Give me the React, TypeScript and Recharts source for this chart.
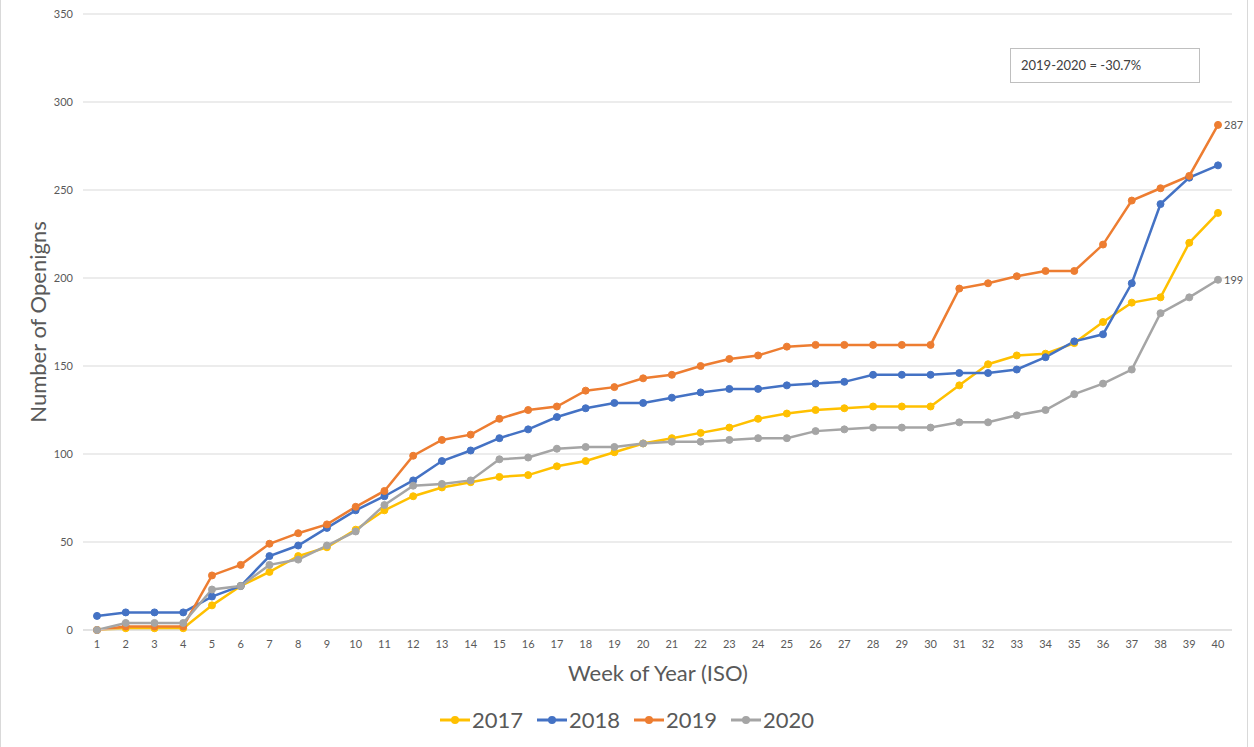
import React from 'react';
import { LineChart, Line, XAxis, YAxis, CartesianGrid, LabelList } from 'recharts';

const weeks = Array.from({ length: 40 }, (_, i) => String(i + 1));
const s2017 = [0, 1, 1, 1, 14, 25, 33, 42, 47, 57, 68, 76, 81, 84, 87, 88, 93, 96, 101, 106, 109, 112, 115, 120, 123, 125, 126, 127, 127, 127, 139, 151, 156, 157, 163, 175, 186, 189, 220, 237];
const s2018 = [8, 10, 10, 10, 19, 25, 42, 48, 58, 68, 76, 85, 96, 102, 109, 114, 121, 126, 129, 129, 132, 135, 137, 137, 139, 140, 141, 145, 145, 145, 146, 146, 148, 155, 164, 168, 197, 242, 257, 264];
const s2019 = [0, 2, 2, 2, 31, 37, 49, 55, 60, 70, 79, 99, 108, 111, 120, 125, 127, 136, 138, 143, 145, 150, 154, 156, 161, 162, 162, 162, 162, 162, 194, 197, 201, 204, 204, 219, 244, 251, 258, 287];
const s2020 = [0, 4, 4, 4, 23, 25, 37, 40, 48, 56, 71, 82, 83, 85, 97, 98, 103, 104, 104, 106, 107, 107, 108, 109, 109, 113, 114, 115, 115, 115, 118, 118, 122, 125, 134, 140, 148, 180, 189, 199];
const yTicks = [0, 50, 100, 150, 200, 250, 300, 350];

const seriesNames = ['2017', '2018', '2019', '2020'];
const colors = ['#FFC000', '#4472C4', '#ED7D31', '#A5A5A5'];

const data = weeks.map((w, i) => ({
  week: w,
  '2017': s2017[i],
  '2018': s2018[i],
  '2019': s2019[i],
  '2020': s2020[i],
}));

const FONT = 'Lato, "Open Sans", sans-serif';

const lastLabel = (props: any) => {
  const { x, y, value, index } = props;
  if (index !== weeks.length - 1) return null;
  return (
    <text x={x + 6} y={y + 4} fontSize={11} fill="#595959" fontFamily={FONT}>
      {value}
    </text>
  );
};

export default function App() {
  return (
    <div style={{ position: 'absolute', left: 0, top: 0, width: 1254, height: 747, background: '#fff', overflow: 'hidden' }}>
      <div style={{ position: 'absolute', left: 0, top: -1, width: 1248, height: 749, border: '1px solid #d9d9d9', boxSizing: 'border-box' }} />
      <LineChart width={1254} height={747} data={data} margin={{ top: 14, right: 22, bottom: 87, left: 23 }}>
        <CartesianGrid vertical={false} stroke="#d9d9d9" strokeWidth={1} />
        <XAxis
          dataKey="week"
          padding={{ left: 14, right: 14 }}
          axisLine={{ stroke: '#d9d9d9' }}
          tickLine={false}
          tick={{ fontSize: 11, fill: '#595959', fontFamily: FONT }}
          tickMargin={4}
          interval={0}
          height={30}
        />
        <YAxis
          domain={[0, 350]}
          ticks={yTicks}
          width={60}
          axisLine={false}
          tickLine={false}
          tick={{ fontSize: 11, fill: '#595959', fontFamily: FONT }}
          tickMargin={4}
        />
        {seriesNames.map((n, i) => (
          <Line
            key={n}
            type="linear"
            dataKey={n}
            stroke={colors[i]}
            strokeWidth={2.5}
            dot={{ r: 3.5, fill: colors[i], stroke: colors[i], strokeWidth: 1 }}
            activeDot={false}
            isAnimationActive={false}
          >
            {(n === '2019' || n === '2020') && <LabelList dataKey={n} content={lastLabel} />}
          </Line>
        ))}
      </LineChart>
      <div style={{ position: 'absolute', left: 0, top: 659, width: 1316, textAlign: 'center', fontFamily: FONT, fontSize: 22, color: '#595959' }}>
        Week of Year (ISO)
      </div>
      <div
        style={{
          position: 'absolute',
          left: 0,
          top: 706,
          width: 1254,
          display: 'flex',
          justifyContent: 'center',
          fontFamily: FONT,
          fontSize: 22,
          color: '#595959',
        }}
      >
        {seriesNames.map((n, i) => (
          <div key={n} style={{ display: 'flex', alignItems: 'center', marginLeft: i === 0 ? 0 : 14 }}>
            <svg width={30} height={10} style={{ marginRight: 2 }}>
              <line x1={0} y1={5} x2={30} y2={5} stroke={colors[i]} strokeWidth={3} />
              <circle cx={15} cy={5} r={4} fill={colors[i]} />
            </svg>
            <span>{n}</span>
          </div>
        ))}
      </div>
      <div
        style={{
          position: 'absolute',
          left: 37,
          top: 322,
          transform: 'translate(-50%, -50%) rotate(-90deg)',
          whiteSpace: 'nowrap',
          fontFamily: FONT,
          fontSize: 22,
          color: '#595959',
        }}
      >
        Number of Openigns
      </div>
      <div
        style={{
          position: 'absolute',
          left: 1010,
          top: 48,
          width: 190,
          height: 35,
          border: '1px solid #bfbfbf',
          boxSizing: 'border-box',
          fontFamily: FONT,
          fontSize: 13,
          color: '#404040',
          paddingLeft: 10,
          lineHeight: '33px',
        }}
      >
        2019-2020 = -30.7%
      </div>
    </div>
  );
}
